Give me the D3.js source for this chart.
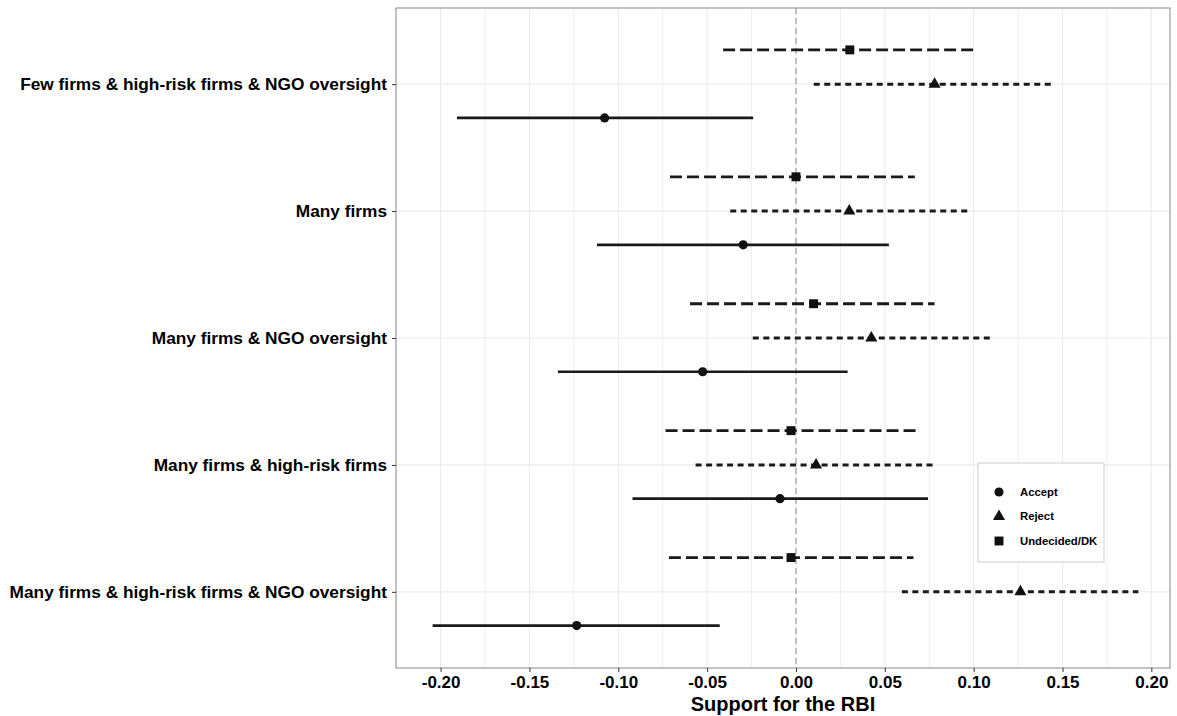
<!DOCTYPE html>
<html>
  <head>
    <script src="https://cdn.jsdelivr.net/npm/d3@7"></script>
    <style>
      body { margin: 0; background: #fff; }
      text { font-family: "Liberation Sans", Arial, sans-serif; font-weight: bold; }
    </style>
  </head>
  <body>
    <svg id="chart" width="1177" height="716"></svg>
    <script>
    var conditions = [
      "Few firms & high-risk firms & NGO oversight",
      "Many firms",
      "Many firms & NGO oversight",
      "Many firms & high-risk firms",
      "Many firms & high-risk firms & NGO oversight"
    ];
    var responses = ["Accept", "Reject", "Undecided/DK"];
    var xTicks = [-0.20, -0.15, -0.10, -0.05, 0.00, 0.05, 0.10, 0.15, 0.20];

    var acceptEst = [-0.1077, -0.0297, -0.0525, -0.0090, -0.1234];
    var acceptLo  = [-0.1908, -0.1120, -0.1340, -0.0920, -0.2045];
    var acceptHi  = [-0.0241,  0.0523,  0.0291,  0.0743, -0.0429];

    var rejectEst = [0.0780, 0.0300, 0.0424, 0.0113, 0.1263];
    var rejectLo  = [0.0100, -0.0370, -0.0243, -0.0565, 0.0596];
    var rejectHi  = [0.1437, 0.0980, 0.1093, 0.0780, 0.1927];

    var undecEst = [0.0303, 0.0000, 0.0099, -0.0028, -0.0028];
    var undecLo  = [-0.0410, -0.0709, -0.0596, -0.0734, -0.0715];
    var undecHi  = [0.1020, 0.0669, 0.0780, 0.0684, 0.0661];

    var rows = [];
    conditions.forEach(function(c, i){
      rows.push({cond: c, resp: "Accept", est: acceptEst[i], lo: acceptLo[i], hi: acceptHi[i]});
      rows.push({cond: c, resp: "Reject", est: rejectEst[i], lo: rejectLo[i], hi: rejectHi[i]});
      rows.push({cond: c, resp: "Undecided/DK", est: undecEst[i], lo: undecLo[i], hi: undecHi[i]});
    });

    var panel = {left: 396, right: 1170, top: 8, bottom: 668};
    var svg = d3.select("#chart");

    var x = d3.scaleLinear().domain([-0.2251, 0.2105]).range([panel.left, panel.right]);
    var y = d3.scalePoint().domain(conditions).range([panel.top, panel.bottom]).padding(0.6);
    var dodge = d3.scaleOrdinal().domain(responses).range([0.266, 0, -0.27]);
    var dash = d3.scaleOrdinal().domain(responses).range(["none", "6,4.5", "12,5"]);
    var width = d3.scaleOrdinal().domain(responses).range([2.7, 3, 2.8]);
    var shape = d3.scaleOrdinal().domain(responses)
      .range([d3.symbolCircle, d3.symbolTriangle, d3.symbolSquare]);
    var shapeSize = d3.scaleOrdinal().domain(responses).range([66, 64, 80]);

    function ypos(d){ return y(d.cond) + dodge(d.resp) * y.step(); }

    // grid
    var minor = d3.range(-0.225, 0.226, 0.05);
    svg.append("g").selectAll("line").data(minor.concat(xTicks)).enter().append("line")
      .attr("x1", function(d){ return x(d); }).attr("x2", function(d){ return x(d); })
      .attr("y1", panel.top).attr("y2", panel.bottom)
      .attr("stroke", "#ebebeb").attr("stroke-width", function(d, i){ return i < minor.length ? 0.8 : 1.1; });
    svg.append("g").selectAll("line").data(conditions).enter().append("line")
      .attr("x1", panel.left).attr("x2", panel.right)
      .attr("y1", function(d){ return y(d); }).attr("y2", function(d){ return y(d); })
      .attr("stroke", "#ebebeb").attr("stroke-width", 1.1);

    // zero reference
    svg.append("line")
      .attr("x1", x(0)).attr("x2", x(0)).attr("y1", panel.top).attr("y2", panel.bottom)
      .attr("stroke", "#8c8c8c").attr("stroke-width", 1).attr("stroke-dasharray", "6,4");

    // intervals
    svg.append("g").selectAll("line").data(rows).enter().append("line")
      .attr("x1", function(d){ return x(d.lo); }).attr("x2", function(d){ return x(d.hi); })
      .attr("y1", ypos).attr("y2", ypos)
      .attr("stroke", "#1a1a1a").attr("stroke-width", function(d){ return width(d.resp); })
      .attr("stroke-dasharray", function(d){ return dash(d.resp); });

    svg.append("g").selectAll("path").data(rows).enter().append("path")
      .attr("transform", function(d){ return "translate(" + x(d.est) + "," + ypos(d) + ")"; })
      .attr("d", function(d){ return d3.symbol().type(shape(d.resp)).size(shapeSize(d.resp))(); })
      .attr("fill", "#111");

    // panel border
    svg.append("rect")
      .attr("x", panel.left).attr("y", panel.top)
      .attr("width", panel.right - panel.left).attr("height", panel.bottom - panel.top)
      .attr("fill", "none").attr("stroke", "#8a8a8a").attr("stroke-width", 1);

    // axes
    var xAxis = svg.append("g").attr("transform", "translate(0," + panel.bottom + ")")
      .call(d3.axisBottom(x).tickValues(xTicks).tickSize(4).tickPadding(4));
    xAxis.select(".domain").remove();
    xAxis.selectAll("line").attr("stroke", "#333");
    xAxis.selectAll("text").attr("font-size", 17).attr("fill", "#000")
      .text(function(d){ return d3.format(".2f")(d).replace("−", "-"); });

    var yAxis = svg.append("g").attr("transform", "translate(" + panel.left + ",0)")
      .call(d3.axisLeft(y).tickSize(4).tickPadding(5));
    yAxis.select(".domain").remove();
    yAxis.selectAll("line").attr("stroke", "#333");
    yAxis.selectAll("text").attr("font-size", 17.3).attr("fill", "#000");

    svg.append("text")
      .attr("x", (panel.left + panel.right) / 2).attr("y", 711)
      .attr("text-anchor", "middle").attr("font-size", 20).text("Support for the RBI");

    // legend
    var legend = svg.append("g").attr("transform", "translate(978,463)");
    legend.append("rect").attr("width", 126).attr("height", 99)
      .attr("fill", "#fff").attr("stroke", "#cccccc").attr("stroke-width", 1);
    var items = legend.selectAll("g.item").data(responses).enter().append("g")
      .attr("transform", function(d, i){ return "translate(21," + (29 + i * 24.5) + ")"; });
    items.append("path")
      .attr("d", function(d){ return d3.symbol().type(shape(d)).size(shapeSize(d))(); })
      .attr("fill", "#111");
    items.append("text").attr("x", 21).attr("dy", "0.35em")
      .attr("font-size", 11.3).text(function(d){ return d; });
    </script>
  </body>
</html>
